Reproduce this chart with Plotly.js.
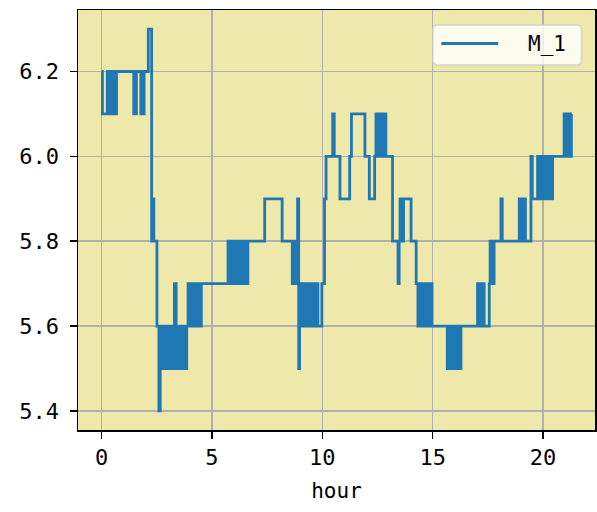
<!DOCTYPE html>
<html>
<head>
<meta charset="utf-8">
<script src="https://cdn.plot.ly/plotly-3.0.1.min.js"></script>
<style>html,body{margin:0;padding:0;background:#fff}#chart{width:597px;height:512px}</style>
</head>
<body>
<div id="chart"></div>
<script>
// Change points of the step series (hour, value)
const hours = [
  0, 0.04, 0.26, 0.30, 0.34, 0.38, 0.42, 0.46, 0.50, 0.55, 0.60, 0.64, 0.68,
  1.46, 1.58, 1.78, 1.84, 1.88, 1.93, 2.12, 2.27, 2.31, 2.37,
  2.51, 2.60, 2.66, 2.70, 2.74, 2.78, 2.82, 2.86, 2.90, 2.94, 2.98, 3.02, 3.06, 3.10, 3.14, 3.18,
  3.30, 3.38, 3.42, 3.46, 3.50, 3.54, 3.58, 3.62, 3.66, 3.70, 3.74, 3.78, 3.82, 3.86,
  3.92, 3.96, 4.00, 4.04, 4.08, 4.12, 4.17, 4.22, 4.27, 4.32, 4.38, 4.44, 4.52,
  5.73, 5.77, 5.81, 5.85, 5.89, 5.93, 5.97, 6.01, 6.06, 6.11, 6.21, 6.26, 6.31, 6.36, 6.41, 6.46, 6.53, 6.58, 6.63,
  7.39, 8.18,
  8.64, 8.68, 8.72, 8.76, 8.80, 8.84, 8.88, 8.93,
  8.97, 9.01, 9.05, 9.09, 9.13, 9.17, 9.21, 9.30, 9.34, 9.38, 9.42, 9.46, 9.50, 9.55, 9.60, 9.65, 9.70, 9.75, 9.80,
  9.98, 10.10, 10.17, 10.47, 10.54, 10.80, 11.24, 11.32, 11.93, 12.13, 12.37,
  12.43, 12.47, 12.51, 12.55, 12.59, 12.63, 12.67, 12.73, 12.79, 12.88,
  13.18, 13.43, 13.48, 13.52, 13.56, 13.60, 13.64, 13.68, 14.02,
  14.25, 14.33, 14.37, 14.41, 14.45, 14.49, 14.53, 14.57, 14.67, 14.71, 14.75, 14.79, 14.83, 14.87, 14.91, 14.97,
  15.66, 15.70, 15.74, 15.78, 15.82, 15.86, 15.90, 15.94, 15.98, 16.02, 16.06, 16.10, 16.14, 16.18, 16.22, 16.28,
  17.03, 17.07, 17.11, 17.15, 17.19, 17.23, 17.27, 17.33,
  17.56, 17.60, 17.64, 17.68, 17.72, 17.78,
  18.09, 18.15, 18.92, 18.96, 19.00, 19.04, 19.08, 19.12, 19.16, 19.20,
  19.45, 19.51, 19.75, 19.80, 19.85, 19.90, 19.97, 20.01, 20.05, 20.09, 20.13, 20.17, 20.21, 20.25, 20.31, 20.37, 20.43,
  20.95, 20.99, 21.03, 21.07, 21.11, 21.15, 21.20, 21.24, 21.28, 21.30
];
const values = [
  6.2, 6.1, 6.2, 6.1, 6.2, 6.1, 6.2, 6.1, 6.2, 6.1, 6.2, 6.1, 6.2,
  6.1, 6.2, 6.1, 6.2, 6.1, 6.2, 6.3, 5.8, 5.9, 5.8,
  5.6, 5.4, 5.6, 5.5, 5.6, 5.5, 5.6, 5.5, 5.6, 5.5, 5.6, 5.5, 5.6, 5.5, 5.6, 5.5,
  5.7, 5.6, 5.5, 5.6, 5.5, 5.6, 5.5, 5.6, 5.5, 5.6, 5.5, 5.6, 5.5, 5.6,
  5.7, 5.6, 5.7, 5.6, 5.7, 5.6, 5.7, 5.6, 5.7, 5.6, 5.7, 5.6, 5.7,
  5.8, 5.7, 5.8, 5.7, 5.8, 5.7, 5.8, 5.7, 5.8, 5.7, 5.8, 5.7, 5.8, 5.7, 5.8, 5.7, 5.8, 5.7, 5.8,
  5.9, 5.8,
  5.7, 5.8, 5.7, 5.8, 5.7, 5.8, 5.9, 5.5,
  5.6, 5.7, 5.6, 5.7, 5.6, 5.7, 5.6, 5.7, 5.6, 5.7, 5.6, 5.7, 5.6, 5.7, 5.6, 5.7, 5.6, 5.7, 5.6,
  5.7, 5.9, 6.0, 6.1, 6.0, 5.9, 6.0, 6.1, 6.0, 5.9, 6.0,
  6.1, 6.0, 6.1, 6.0, 6.1, 6.0, 6.1, 6.0, 6.1, 6.0,
  5.8, 5.7, 5.8, 5.9, 5.8, 5.9, 5.8, 5.9, 5.8,
  5.7, 5.6, 5.7, 5.6, 5.7, 5.6, 5.7, 5.6, 5.7, 5.6, 5.7, 5.6, 5.7, 5.6, 5.7, 5.6,
  5.5, 5.6, 5.5, 5.6, 5.5, 5.6, 5.5, 5.6, 5.5, 5.6, 5.5, 5.6, 5.5, 5.6, 5.5, 5.6,
  5.7, 5.6, 5.7, 5.6, 5.7, 5.6, 5.7, 5.6,
  5.7, 5.8, 5.7, 5.8, 5.7, 5.8,
  5.9, 5.8, 5.9, 5.8, 5.9, 5.8, 5.9, 5.8, 5.9, 5.8,
  6.0, 5.9, 6.0, 5.9, 6.0, 5.9, 6.0, 5.9, 6.0, 5.9, 6.0, 5.9, 6.0, 5.9, 6.0, 5.9, 6.0,
  6.1, 6.0, 6.1, 6.0, 6.1, 6.0, 6.1, 6.0, 6.1, 6.1
];
const seriesName = "M_1";
const xTicks = [0, 5, 10, 15, 20];
const yTicks = [5.4, 5.6, 5.8, 6.0, 6.2];
const yTickText = ["5.4", "5.6", "5.8", "6.0", "6.2"];
const xTitle = "hour";

const FONT = "DejaVu Sans Mono, monospace";
const W = 597, H = 512;
const M = {l: 77.5, r: 1.5, t: 10, b: 82};
const PW = W - M.l - M.r, PH = H - M.t - M.b;
const px = v => (v - M.l) / PW;
const py = v => (H - M.b - v) / PH;

// legend box (rounded) in paper coords
const lx0 = 433, lx1 = 582, ly0 = 25, ly1 = 65, rr = 5;
function rrect(x0, y0, x1, y1, r) {
  const X = v => px(v), Y = v => py(v);
  return `M${X(x0 + r)},${Y(y0)} L${X(x1 - r)},${Y(y0)} Q${X(x1)},${Y(y0)} ${X(x1)},${Y(y0 + r)} ` +
         `L${X(x1)},${Y(y1 - r)} Q${X(x1)},${Y(y1)} ${X(x1 - r)},${Y(y1)} ` +
         `L${X(x0 + r)},${Y(y1)} Q${X(x0)},${Y(y1)} ${X(x0)},${Y(y1 - r)} ` +
         `L${X(x0)},${Y(y0 + r)} Q${X(x0)},${Y(y0)} ${X(x0 + r)},${Y(y0)} Z`;
}

const trace = {
  x: hours, y: values, type: "scatter", mode: "lines", name: seriesName,
  line: {shape: "hv", color: "#1f77b4", width: 2.8}, showlegend: false
};

const axisCommon = {
  showline: true, linecolor: "#000", linewidth: 1.5, mirror: true,
  ticks: "outside", ticklen: 7, tickwidth: 1.5, tickcolor: "#000",
  showgrid: true, gridcolor: "#b0b0b0", gridwidth: 1.5, zeroline: false,
  tickfont: {family: FONT, size: 22, color: "#000"}
};

const layout = {
  width: W, height: H,
  margin: {l: M.l, r: M.r, t: M.t, b: M.b, pad: 0},
  paper_bgcolor: "#ffffff", plot_bgcolor: "#eee8aa",
  font: {family: FONT, color: "#000"},
  xaxis: Object.assign({}, axisCommon, {
    range: [-1.065, 22.35], tickvals: xTicks, ticktext: xTicks.map(String),
    title: {text: xTitle, font: {family: FONT, size: 21, color: "#000"}, standoff: 14}
  }),
  yaxis: Object.assign({}, axisCommon, {
    range: [5.355, 6.345], tickvals: yTicks, ticktext: yTickText, ticklabelstandoff: 6
  }),
  shapes: [
    {type: "path", xref: "paper", yref: "paper", path: rrect(lx0, ly0, lx1, ly1, rr),
     fillcolor: "rgba(255,255,255,0.8)", line: {color: "rgba(204,204,204,0.8)", width: 1.5}},
    {type: "line", xref: "paper", yref: "paper", x0: px(441.5), x1: px(498.5), y0: py(43.5), y1: py(43.5),
     line: {color: "#1f77b4", width: 2.8}}
  ],
  annotations: [
    {xref: "paper", yref: "paper", x: px(568), y: py(43.5), xanchor: "right", yanchor: "middle",
     text: seriesName, showarrow: false, font: {family: FONT, size: 21, color: "#000"}}
  ]
};

Plotly.newPlot("chart", [trace], layout, {displayModeBar: false, staticPlot: true});
</script>
</body>
</html>
